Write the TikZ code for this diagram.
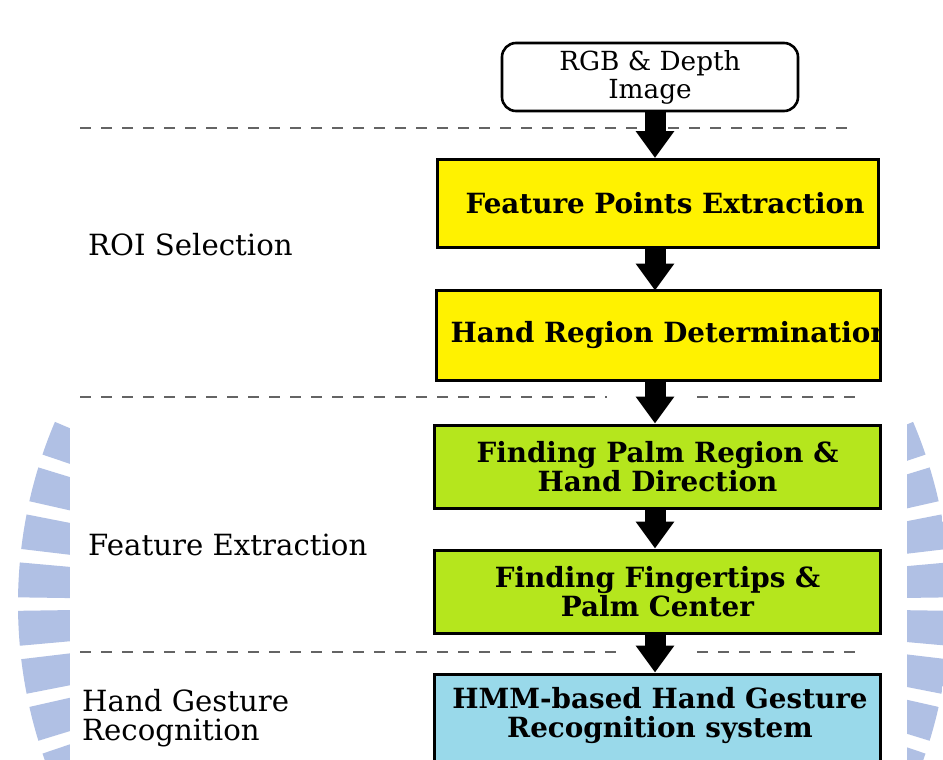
\documentclass[tikz,border=0pt]{standalone}
\usepackage{fontspec}
\setmainfont{DejaVu Serif}
\usetikzlibrary{arrows.meta,calc}

\definecolor{boxyellow}{RGB}{255,242,0}
\definecolor{boxgreen}{RGB}{181,230,29}
\definecolor{boxblue}{RGB}{153,217,234}
\definecolor{sealblue}{RGB}{176,192,228}
\definecolor{rulegray}{RGB}{100,100,100}

\begin{document}
\begin{tikzpicture}[x=1pt,y=-1pt,
  stagebox/.style={line width=3pt, inner sep=0pt, align=center,
    font=\bfseries\fontsize{27.8}{29}\selectfont},
  phase/.style={anchor=west, inner sep=0pt, align=left,
    font=\fontsize{29.2}{29}\selectfont},
  bigarrow/.style={line width=21pt, -{Triangle[length=27pt,width=37pt]}},
  separator/.style={draw=rulegray, line width=1.8pt, dash pattern=on 11pt off 10pt}
]
\useasboundingbox (0,0) rectangle (943,760);
\fill[white] (0,0) rectangle (943,760);

% faint seal rays behind the sheet
\begin{scope}
  \clip (484,604) circle [radius=466];
  \foreach \k in {0,...,7} {
    \pgfmathsetmacro\ta{23-5.96*\k}
    \pgfmathsetmacro\tb{\ta-4.3}
    \fill[sealblue] (484,604) -- +(180+\ta:800) -- +(180+\tb:800) -- cycle;
    \fill[sealblue] (484,604) -- +(-\ta:800) -- +(-\tb:800) -- cycle;
  }
\end{scope}
\fill[white] (70,0) rectangle (907,760);

% section separators
\coordinate (s1a) at (80,128);  \coordinate (s1b) at (855,128);
\coordinate (s2a) at (80,397);  \coordinate (s2b) at (607,397);
\coordinate (s2c) at (697,397); \coordinate (s2d) at (860,397);
\coordinate (s3a) at (80,652);  \coordinate (s3b) at (622,652);
\coordinate (s3c) at (697,652); \coordinate (s3d) at (862,652);
\draw[separator] (s1a) -- (s1b);
\draw[separator] (s2a) -- (s2b);
\draw[separator] (s2c) -- (s2d);
\draw[separator] (s3a) -- (s3b);
\draw[separator] (s3c) -- (s3d);

% input
\node[draw, line width=2.6pt, rounded corners=14pt, minimum width=296pt,
  minimum height=68pt, inner sep=0pt, align=center,
  font=\fontsize{26.3}{28}\selectfont] (rgb) at (650,77) {RGB \& Depth\\Image};

% processing stages
\node[stagebox, draw, fill=boxyellow, minimum width=441pt, minimum height=88pt]
  (fpe) at (658,203.5) {};
\node[stagebox] (fpet) at (665,203.5) {Feature Points Extraction};
\node[stagebox, fill=boxyellow, minimum width=441pt, minimum height=87pt]
  (hrd) at (658,335.5) {};
\begin{scope}
  \clip (hrd.north west) rectangle (hrd.south east);
  \node[stagebox, anchor=west] (hrdt) at ($(hrd.west)+(13,0)$) {Hand Region Determination};
\end{scope}
\draw[line width=3pt] (hrd.north west) rectangle (hrd.south east);

\node[stagebox, draw, fill=boxgreen, minimum width=446pt, minimum height=83pt]
  (palm) at (657.5,466.5) {Finding Palm Region \&\\Hand Direction};
\node[stagebox, draw, fill=boxgreen, minimum width=446pt, minimum height=83pt]
  (tips) at (657.5,591.5) {Finding Fingertips \&\\Palm Center};
\node[stagebox, draw, fill=boxblue, minimum width=446pt, minimum height=112pt]
  (hmm) at (657.5,730) {};
\node[stagebox] (hmmt) at (660,716) {HMM-based Hand Gesture\\Recognition system};

% flow arrows
\coordinate (ax) at (655,0);
\draw[bigarrow] (rgb.south -| ax) -- (fpe.north -| ax);
\draw[bigarrow] (fpe.south -| ax) -- (hrd.north -| ax);
\draw[bigarrow] (hrd.south -| ax) -- (palm.north -| ax);
\draw[bigarrow] (palm.south -| ax) -- (tips.north -| ax);
\draw[bigarrow] (tips.south -| ax) -- (hmm.north -| ax);

% phase labels
\node[phase] (roi) at (88,245) {ROI Selection};
\node[phase] (fex) at (88,545) {Feature Extraction};
\node[phase] (hgr) at (82,718) {Hand Gesture\\Recognition};
\end{tikzpicture}
\end{document}
